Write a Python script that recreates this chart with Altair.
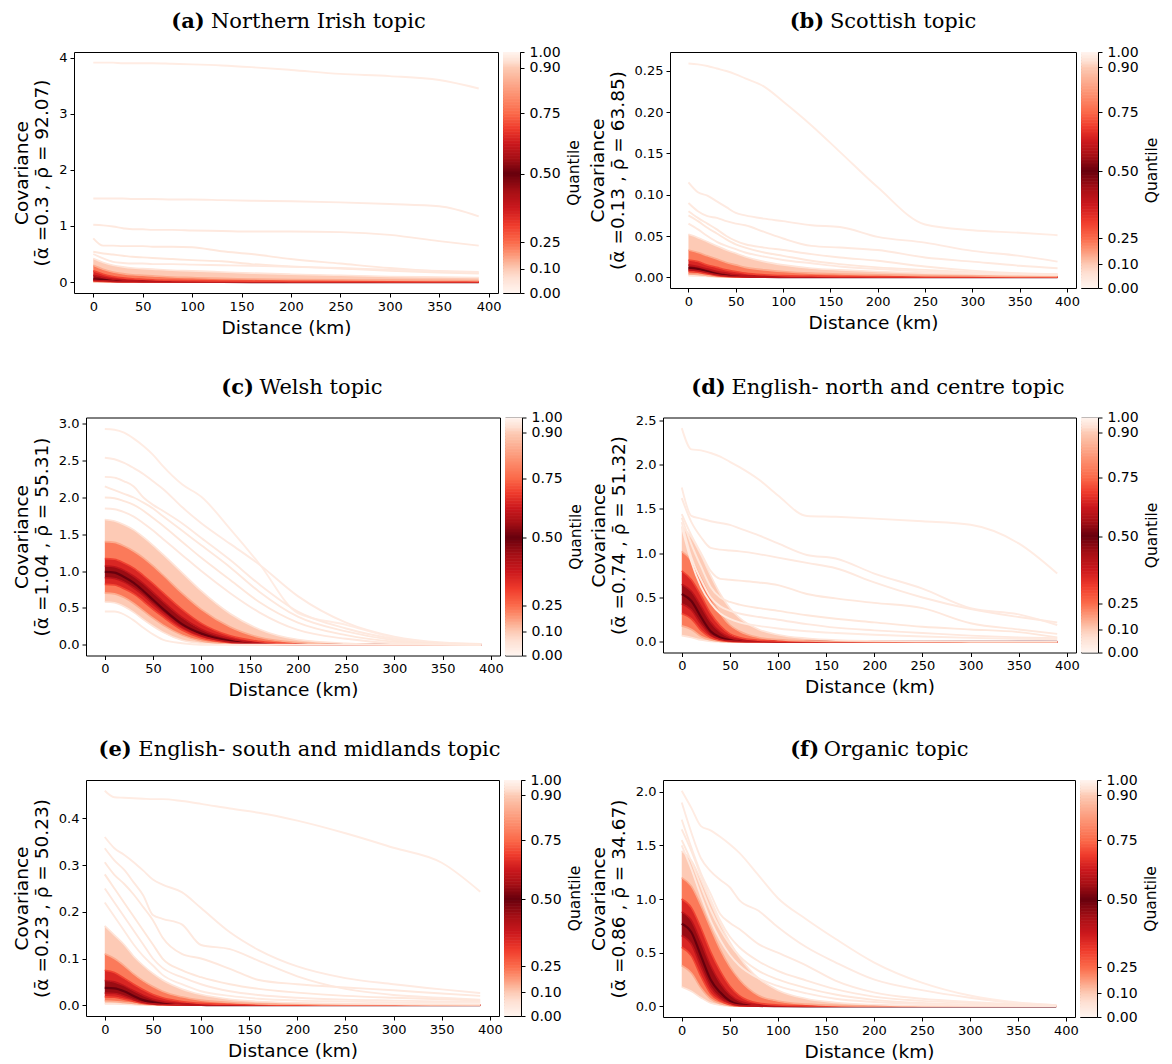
import altair as alt
import numpy as np
import pandas as pd

# ---------------- data ----------------
DIST = [0, 10, 20, 30, 40, 50, 60, 80, 100, 130, 160, 200, 250, 300, 350, 390]

A_Q = {
    0.05: [0.002, 0.001, 0, 0, 0, 0, 0, 0, 0, 0, 0, 0, 0, 0, 0, 0],
    0.15: [0.008, 0.005, 0.003, 0.001, 0, 0, 0, 0, 0, 0, 0, 0, 0, 0, 0, 0],
    0.30: [0.018, 0.012, 0.007, 0.004, 0.002, 0.001, 0, 0, 0, 0, 0, 0, 0, 0, 0, 0],
    0.40: [0.03, 0.022, 0.013, 0.008, 0.005, 0.003, 0.002, 0.001, 0, 0, 0, 0, 0, 0, 0, 0],
    0.50: [0.05, 0.04, 0.025, 0.015, 0.01, 0.007, 0.005, 0.003, 0.002, 0.001, 0, 0, 0, 0, 0, 0],
    0.60: [0.12, 0.08, 0.05, 0.035, 0.025, 0.018, 0.014, 0.01, 0.008, 0.006, 0.005, 0.004, 0.003, 0.002, 0.002, 0.002],
    0.70: [0.20, 0.14, 0.10, 0.075, 0.06, 0.05, 0.04, 0.03, 0.025, 0.02, 0.016, 0.013, 0.01, 0.008, 0.007, 0.006],
    0.85: [0.30, 0.23, 0.18, 0.15, 0.13, 0.12, 0.11, 0.09, 0.08, 0.065, 0.055, 0.045, 0.04, 0.035, 0.03, 0.025],
    0.95: [0.42, 0.35, 0.30, 0.27, 0.25, 0.24, 0.23, 0.21, 0.20, 0.18, 0.16, 0.14, 0.12, 0.10, 0.09, 0.08],
}
A_EXTRA = [
    [3.91, 3.91, 3.91, 3.90, 3.90, 3.90, 3.90, 3.89, 3.88, 3.86, 3.83, 3.78, 3.71, 3.67, 3.60, 3.45],
    [1.49, 1.49, 1.49, 1.49, 1.48, 1.48, 1.48, 1.47, 1.47, 1.46, 1.45, 1.44, 1.42, 1.39, 1.35, 1.17],
    [1.02, 1.01, 0.99, 0.96, 0.94, 0.94, 0.93, 0.93, 0.92, 0.91, 0.90, 0.90, 0.89, 0.84, 0.73, 0.65],
    [0.78, 0.65, 0.65, 0.64, 0.64, 0.64, 0.63, 0.63, 0.62, 0.55, 0.50, 0.41, 0.33, 0.25, 0.19, 0.16],
    [0.54, 0.51, 0.49, 0.47, 0.45, 0.44, 0.43, 0.41, 0.39, 0.37, 0.32, 0.28, 0.24, 0.20, 0.17, 0.15],
    [0.50, 0.42, 0.36, 0.34, 0.33, 0.33, 0.32, 0.32, 0.31, 0.30, 0.29, 0.27, 0.25, 0.22, 0.20, 0.18],
]

B_Q = {
    0.05: [0.002, 0.0015, 0.001, 0.0005, 0, 0, 0, 0, 0, 0, 0, 0, 0, 0, 0, 0],
    0.15: [0.004, 0.0035, 0.002, 0.001, 0.0005, 0, 0, 0, 0, 0, 0, 0, 0, 0, 0, 0],
    0.30: [0.007, 0.006, 0.004, 0.002, 0.001, 0.0005, 0, 0, 0, 0, 0, 0, 0, 0, 0, 0],
    0.40: [0.009, 0.008, 0.0055, 0.003, 0.0015, 0.001, 0.0005, 0, 0, 0, 0, 0, 0, 0, 0, 0],
    0.50: [0.011, 0.010, 0.007, 0.004, 0.002, 0.0012, 0.0008, 0.0004, 0.0002, 0, 0, 0, 0, 0, 0, 0],
    0.60: [0.015, 0.013, 0.010, 0.007, 0.005, 0.003, 0.002, 0.0012, 0.0008, 0.0005, 0.0003, 0.0002, 0.0001, 0, 0, 0],
    0.70: [0.021, 0.019, 0.015, 0.012, 0.009, 0.007, 0.005, 0.003, 0.002, 0.0015, 0.001, 0.0008, 0.0005, 0.0004, 0.0003, 0.0002],
    0.85: [0.033, 0.030, 0.026, 0.022, 0.018, 0.015, 0.012, 0.009, 0.007, 0.005, 0.004, 0.003, 0.002, 0.0015, 0.001, 0.001],
    0.95: [0.052, 0.048, 0.043, 0.038, 0.033, 0.029, 0.025, 0.019, 0.015, 0.011, 0.009, 0.007, 0.005, 0.004, 0.003, 0.003],
}
B_EXTRA = [
    [0.259, 0.258, 0.256, 0.253, 0.250, 0.246, 0.241, 0.231, 0.213, 0.184, 0.152, 0.109, 0.064, 0.057, 0.054, 0.051],
    [0.115, 0.103, 0.099, 0.092, 0.085, 0.078, 0.075, 0.071, 0.068, 0.063, 0.061, 0.049, 0.042, 0.032, 0.026, 0.019],
    [0.090, 0.080, 0.074, 0.072, 0.068, 0.065, 0.063, 0.055, 0.047, 0.038, 0.036, 0.033, 0.024, 0.019, 0.014, 0.011],
    [0.080, 0.072, 0.065, 0.058, 0.050, 0.044, 0.040, 0.036, 0.033, 0.028, 0.024, 0.020, 0.013, 0.008, 0.005, 0.004],
    [0.075, 0.068, 0.060, 0.053, 0.046, 0.040, 0.036, 0.030, 0.026, 0.020, 0.016, 0.012, 0.009, 0.006, 0.004, 0.003],
    [0.065, 0.058, 0.050, 0.043, 0.038, 0.034, 0.030, 0.025, 0.021, 0.017, 0.013, 0.010, 0.007, 0.005, 0.004, 0.003],
]

C_Q = {
    0.05: [0.58, 0.57, 0.52, 0.44, 0.34, 0.25, 0.17, 0.06, 0.02, 0, 0, 0, 0, 0, 0, 0],
    0.15: [0.70, 0.69, 0.64, 0.56, 0.46, 0.36, 0.27, 0.13, 0.05, 0.01, 0, 0, 0, 0, 0, 0],
    0.30: [0.82, 0.81, 0.76, 0.69, 0.59, 0.48, 0.38, 0.20, 0.09, 0.025, 0.005, 0, 0, 0, 0, 0],
    0.40: [0.91, 0.90, 0.85, 0.77, 0.67, 0.55, 0.44, 0.24, 0.12, 0.035, 0.01, 0, 0, 0, 0, 0],
    0.50: [0.99, 0.98, 0.92, 0.84, 0.73, 0.61, 0.49, 0.28, 0.15, 0.05, 0.015, 0.003, 0, 0, 0, 0],
    0.60: [1.07, 1.06, 1.01, 0.93, 0.83, 0.71, 0.59, 0.37, 0.21, 0.08, 0.025, 0.005, 0, 0, 0, 0],
    0.70: [1.17, 1.16, 1.11, 1.04, 0.94, 0.83, 0.71, 0.48, 0.29, 0.12, 0.045, 0.01, 0.002, 0, 0, 0],
    0.85: [1.40, 1.39, 1.34, 1.27, 1.18, 1.07, 0.95, 0.70, 0.48, 0.24, 0.10, 0.03, 0.005, 0.001, 0, 0],
    0.95: [1.70, 1.68, 1.63, 1.56, 1.46, 1.35, 1.23, 0.98, 0.73, 0.42, 0.21, 0.07, 0.02, 0.005, 0.002, 0.001],
}
C_EXTRA = [
    [2.93, 2.92, 2.88, 2.80, 2.70, 2.58, 2.43, 2.18, 2.01, 1.57, 1.10, 0.43, 0.27, 0.095, 0.02, 0.01],
    [2.54, 2.52, 2.47, 2.40, 2.32, 2.22, 2.12, 1.87, 1.65, 1.37, 1.09, 0.66, 0.30, 0.11, 0.03, 0.01],
    [2.28, 2.27, 2.22, 2.15, 2.00, 1.90, 1.82, 1.65, 1.45, 1.15, 0.82, 0.45, 0.22, 0.08, 0.02, 0.005],
    [2.15, 2.10, 2.05, 2.00, 1.93, 1.85, 1.75, 1.55, 1.35, 1.05, 0.72, 0.38, 0.18, 0.06, 0.015, 0.005],
    [2.00, 1.99, 1.95, 1.90, 1.82, 1.72, 1.62, 1.40, 1.18, 0.88, 0.58, 0.30, 0.13, 0.04, 0.01, 0.0],
    [1.85, 1.84, 1.80, 1.74, 1.65, 1.55, 1.44, 1.22, 1.00, 0.70, 0.44, 0.20, 0.08, 0.02, 0.005, 0],
    [0.45, 0.45, 0.41, 0.33, 0.23, 0.14, 0.07, 0.02, 0, 0, 0, 0, 0, 0, 0, 0],
]

D_Q = {
    0.05: [0.07, 0.05, 0.02, 0.005, 0.001, 0, 0, 0, 0, 0, 0, 0, 0, 0, 0, 0],
    0.15: [0.18, 0.14, 0.06, 0.02, 0.005, 0.001, 0, 0, 0, 0, 0, 0, 0, 0, 0, 0],
    0.30: [0.32, 0.26, 0.13, 0.05, 0.015, 0.005, 0.002, 0, 0, 0, 0, 0, 0, 0, 0, 0],
    0.40: [0.43, 0.36, 0.20, 0.08, 0.03, 0.01, 0.004, 0.001, 0, 0, 0, 0, 0, 0, 0, 0],
    0.50: [0.54, 0.46, 0.28, 0.12, 0.05, 0.02, 0.008, 0.002, 0, 0, 0, 0, 0, 0, 0, 0],
    0.60: [0.65, 0.57, 0.40, 0.22, 0.11, 0.05, 0.025, 0.008, 0.003, 0.001, 0, 0, 0, 0, 0, 0],
    0.70: [0.80, 0.70, 0.52, 0.32, 0.18, 0.09, 0.05, 0.018, 0.008, 0.003, 0.001, 0, 0, 0, 0, 0],
    0.85: [1.02, 0.92, 0.72, 0.50, 0.32, 0.19, 0.12, 0.05, 0.025, 0.01, 0.005, 0.002, 0.001, 0, 0, 0],
    0.95: [1.30, 1.18, 0.98, 0.75, 0.54, 0.38, 0.27, 0.14, 0.08, 0.04, 0.02, 0.01, 0.005, 0.003, 0.002, 0.001],
}
D_EXTRA = [
    [2.41, 2.17, 2.16, 2.13, 2.09, 2.03, 1.97, 1.83, 1.65, 1.42, 1.41, 1.39, 1.36, 1.32, 1.11, 0.77],
    [1.74, 1.42, 1.39, 1.36, 1.34, 1.32, 1.28, 1.20, 1.11, 0.98, 0.94, 0.77, 0.60, 0.38, 0.31, 0.19],
    [1.62, 1.35, 1.18, 1.06, 1.04, 1.03, 1.02, 0.99, 0.95, 0.89, 0.83, 0.67, 0.50, 0.37, 0.28, 0.22],
    [1.44, 1.20, 1.00, 0.80, 0.71, 0.70, 0.69, 0.67, 0.64, 0.54, 0.49, 0.44, 0.38, 0.21, 0.14, 0.09],
    [1.40, 1.10, 0.85, 0.62, 0.50, 0.45, 0.42, 0.38, 0.35, 0.30, 0.26, 0.22, 0.17, 0.14, 0.11, 0.05],
    [1.35, 0.95, 0.70, 0.50, 0.40, 0.35, 0.32, 0.28, 0.25, 0.20, 0.16, 0.13, 0.10, 0.07, 0.05, 0.04],
    [1.30, 0.90, 0.62, 0.44, 0.32, 0.26, 0.22, 0.18, 0.15, 0.12, 0.10, 0.08, 0.06, 0.045, 0.035, 0.03],
]

E_Q = {
    0.05: [0.003, 0.003, 0.002, 0.001, 0, 0, 0, 0, 0, 0, 0, 0, 0, 0, 0, 0],
    0.15: [0.009, 0.008, 0.006, 0.004, 0.002, 0.001, 0, 0, 0, 0, 0, 0, 0, 0, 0, 0],
    0.30: [0.018, 0.017, 0.013, 0.008, 0.004, 0.002, 0.001, 0, 0, 0, 0, 0, 0, 0, 0, 0],
    0.40: [0.026, 0.025, 0.020, 0.012, 0.006, 0.003, 0.0015, 0.0005, 0, 0, 0, 0, 0, 0, 0, 0],
    0.50: [0.037, 0.036, 0.030, 0.020, 0.011, 0.006, 0.003, 0.001, 0.0005, 0, 0, 0, 0, 0, 0, 0],
    0.60: [0.053, 0.050, 0.042, 0.031, 0.021, 0.013, 0.008, 0.003, 0.0015, 0.0005, 0, 0, 0, 0, 0, 0],
    0.70: [0.075, 0.070, 0.058, 0.045, 0.033, 0.023, 0.016, 0.008, 0.004, 0.002, 0.001, 0, 0, 0, 0, 0],
    0.85: [0.11, 0.10, 0.085, 0.067, 0.052, 0.040, 0.030, 0.018, 0.011, 0.006, 0.003, 0.002, 0.001, 0.001, 0, 0],
    0.95: [0.17, 0.15, 0.13, 0.105, 0.085, 0.068, 0.054, 0.035, 0.023, 0.013, 0.008, 0.005, 0.003, 0.002, 0.0015, 0.001],
}
E_EXTRA = [
    [0.459, 0.445, 0.444, 0.443, 0.442, 0.441, 0.441, 0.437, 0.431, 0.421, 0.412, 0.395, 0.368, 0.337, 0.305, 0.243],
    [0.360, 0.336, 0.322, 0.306, 0.288, 0.269, 0.258, 0.242, 0.208, 0.156, 0.118, 0.083, 0.058, 0.045, 0.034, 0.026],
    [0.336, 0.310, 0.290, 0.263, 0.235, 0.193, 0.185, 0.173, 0.129, 0.120, 0.095, 0.062, 0.035, 0.022, 0.016, 0.012],
    [0.306, 0.279, 0.260, 0.237, 0.210, 0.182, 0.145, 0.110, 0.100, 0.078, 0.054, 0.045, 0.038, 0.032, 0.025, 0.020],
    [0.28, 0.25, 0.22, 0.19, 0.16, 0.13, 0.10, 0.075, 0.06, 0.045, 0.035, 0.027, 0.02, 0.016, 0.013, 0.01],
    [0.25, 0.22, 0.19, 0.16, 0.13, 0.10, 0.08, 0.06, 0.045, 0.03, 0.022, 0.016, 0.012, 0.01, 0.008, 0.007],
    [0.22, 0.19, 0.16, 0.13, 0.105, 0.085, 0.065, 0.045, 0.03, 0.02, 0.014, 0.01, 0.008, 0.006, 0.005, 0.005],
]

F_Q = {
    0.05: [0.18, 0.14, 0.08, 0.03, 0.01, 0.002, 0, 0, 0, 0, 0, 0, 0, 0, 0, 0],
    0.15: [0.38, 0.31, 0.17, 0.07, 0.025, 0.006, 0.001, 0, 0, 0, 0, 0, 0, 0, 0, 0],
    0.30: [0.55, 0.47, 0.28, 0.12, 0.05, 0.015, 0.004, 0, 0, 0, 0, 0, 0, 0, 0, 0],
    0.40: [0.66, 0.58, 0.37, 0.18, 0.08, 0.03, 0.008, 0.001, 0, 0, 0, 0, 0, 0, 0, 0],
    0.50: [0.77, 0.69, 0.47, 0.25, 0.13, 0.05, 0.015, 0.003, 0.001, 0, 0, 0, 0, 0, 0, 0],
    0.60: [0.88, 0.80, 0.60, 0.38, 0.22, 0.11, 0.05, 0.012, 0.004, 0.001, 0, 0, 0, 0, 0, 0],
    0.70: [1.00, 0.92, 0.73, 0.51, 0.33, 0.19, 0.10, 0.03, 0.012, 0.004, 0.001, 0, 0, 0, 0, 0],
    0.85: [1.20, 1.12, 0.94, 0.73, 0.53, 0.37, 0.25, 0.10, 0.05, 0.02, 0.008, 0.003, 0.001, 0, 0, 0],
    0.95: [1.45, 1.36, 1.18, 0.97, 0.77, 0.60, 0.46, 0.26, 0.15, 0.07, 0.035, 0.015, 0.006, 0.003, 0.002, 0.001],
}
F_EXTRA = [
    [2.01, 1.85, 1.68, 1.64, 1.58, 1.51, 1.43, 1.22, 1.01, 0.81, 0.63, 0.41, 0.22, 0.10, 0.035, 0.01],
    [1.90, 1.62, 1.38, 1.26, 1.18, 1.11, 0.99, 0.89, 0.74, 0.55, 0.41, 0.25, 0.15, 0.08, 0.03, 0.01],
    [1.74, 1.48, 1.24, 1.05, 0.86, 0.78, 0.72, 0.58, 0.50, 0.38, 0.24, 0.13, 0.07, 0.04, 0.02, 0.01],
    [1.65, 1.45, 1.22, 1.00, 0.80, 0.65, 0.55, 0.42, 0.33, 0.24, 0.16, 0.09, 0.05, 0.03, 0.015, 0.01],
    [1.55, 1.35, 1.12, 0.90, 0.72, 0.58, 0.47, 0.33, 0.25, 0.17, 0.11, 0.06, 0.03, 0.015, 0.01, 0.005],
    [1.50, 1.28, 1.03, 0.80, 0.62, 0.48, 0.38, 0.26, 0.19, 0.12, 0.07, 0.04, 0.02, 0.01, 0.005, 0.003],
]

LETTERS = ["(a)", "(b)", "(c)", "(d)", "(e)", "(f)"]
TITLES = ["Northern Irish topic", "Scottish topic", "Welsh topic",
          "English- north and centre topic", "English- south and midlands topic", "Organic topic"]
ALPHAS = ["0.3", "0.13", "1.04", "0.74", "0.23", "0.86"]
RHOS = ["92.07", "63.85", "55.31", "51.32", "50.23", "34.67"]
Y_TICKS = [
    [0, 1, 2, 3, 4],
    [0, 0.05, 0.10, 0.15, 0.20, 0.25],
    [0, 0.5, 1.0, 1.5, 2.0, 2.5, 3.0],
    [0, 0.5, 1.0, 1.5, 2.0, 2.5],
    [0, 0.1, 0.2, 0.3, 0.4],
    [0, 0.5, 1.0, 1.5, 2.0],
]
Y_FMT = ["d", ".2f", ".1f", ".1f", ".1f", ".1f"]
Y_DOM = [[-0.195, 4.10], [-0.013, 0.273], [-0.147, 3.087], [-0.12, 2.53], [-0.023, 0.482], [-0.1, 2.11]]
QUANTS = [A_Q, B_Q, C_Q, D_Q, E_Q, F_Q]
EXTRAS = [A_EXTRA, B_EXTRA, C_EXTRA, D_EXTRA, E_EXTRA, F_EXTRA]

CB_TICK_POS = [0.0, 0.10, 0.21, 0.495, 0.745, 0.935, 1.0]
CB_TICK_Q = [0.0, 0.10, 0.25, 0.50, 0.75, 0.90, 1.0]
CB_LABELS = ["0.00", "0.10", "0.25", "0.50", "0.75", "0.90", "1.00"]

# ---------------- layout / style ----------------
SIZES = [(424, 241), (406, 236), (414, 238), (413, 235), (413, 236), (412, 237)]
CBW = 17
CBGAP = 5
LEFT_PAD = [2, 1, 1]       # blank width in front of each row
ROW_SP = [4, 3, 4]         # gap between the left and right panel groups
REDS = ['#fff5f0', '#fee0d2', '#fcbba1', '#fc9272', '#fb6a4a', '#ef3b2c', '#cb181d', '#a50f15', '#67000d']
CSCALE = alt.Scale(domain=[i / 16 for i in range(17)], range=REDS + REDS[-2::-1], interpolate='rgb')

SANS_W = {' ': 651, '(': 799, ')': 799, '-': 739,
          'a': 1255, 'b': 1300, 'c': 1126, 'd': 1300, 'e': 1260, 'f': 721, 'g': 1300, 'h': 1298,
          'i': 569, 'j': 569, 'k': 1186, 'l': 569, 'm': 1995, 'n': 1298, 'o': 1253, 'p': 1300,
          'q': 1300, 'r': 842, 's': 1067, 't': 803, 'u': 1298, 'v': 1212, 'w': 1675, 'x': 1212,
          'y': 1212, 'z': 1075, 'E': 1294, 'I': 604, 'N': 1532, 'O': 1612, 'S': 1300, 'W': 2025}


def text_w(s, size, factor):
    return sum(SANS_W.get(ch, 1250) for ch in s) / 2048.0 * size * factor


TFS = 21


def panel(i):
    W, H = SIZES[i]
    Q = QUANTS[i]
    keys = sorted(Q)
    band_rows = []
    for k1, k2 in zip(keys[:-1], keys[1:]):
        for d, lo, hi in zip(DIST, Q[k1], Q[k2]):
            band_rows.append({'d': d, 'lo': lo, 'hi': hi, 'q': (k1 + k2) / 2, 'band': f'{k1}-{k2}'})
    bands = pd.DataFrame(band_rows)

    erows = []
    eq = [0.972, 0.968, 0.964, 0.96, 0.957, 0.962, 0.966]
    for j, vals in enumerate(EXTRAS[i]):
        for d, v in zip(DIST, vals):
            erows.append({'d': d, 'v': v, 'q': eq[j % len(eq)], 'id': f'e{j}'})
    extra = pd.DataFrame(erows)

    xenc = alt.X('d:Q', scale=alt.Scale(domain=[-19.5, 409.5], nice=False, zero=False),
                 axis=alt.Axis(values=list(range(0, 401, 50)), format='d', title='Distance (km)',
                               labelFlush=False))
    yaxis = alt.Axis(values=Y_TICKS[i], format=Y_FMT[i], labelFlush=False, titlePadding=7,
                     title=['Covariance', f'(\u03b1\u0304 ={ALPHAS[i]} , \u03c1\u0304 = {RHOS[i]})'])
    yscale = alt.Scale(domain=Y_DOM[i], nice=False, zero=False)
    col = alt.Color('q:Q', scale=CSCALE, legend=None)

    layers = [alt.Chart(bands).mark_area(interpolate='monotone', opacity=1).encode(
        x=xenc, y=alt.Y('lo:Q', scale=yscale, axis=yaxis, stack=None), y2='hi:Q',
        color=col, detail='band:N')]
    # median first, then the other quantile curves in ascending order, then the extreme curves
    order = [0.5] + [k for k in keys if k != 0.5]
    for k in order:
        dfq = pd.DataFrame({'d': DIST, 'v': Q[k], 'q': k})
        layers.append(alt.Chart(dfq).mark_line(
            interpolate='monotone', strokeWidth=2.2 if k == 0.5 else 1.6).encode(
            x=xenc, y=alt.Y('v:Q', scale=yscale, axis=yaxis), color=col))
    layers.append(alt.Chart(extra).mark_line(interpolate='monotone', strokeWidth=1.9).encode(
        x=xenc, y=alt.Y('v:Q', scale=yscale, axis=yaxis), color=col, detail='id:N'))

    # title: bold letter + regular text, centred over plot + colourbar
    wb = text_w(LETTERS[i], TFS, 1.13)
    wsp = text_w(' ', TFS, 1.0)
    wr = text_w(TITLES[i], TFS, 1.04)
    cx = (W + CBGAP + CBW) / 2.0
    x0 = cx - (wb + wsp + wr) / 2.0
    layers.append(alt.Chart(pd.DataFrame({'t': [LETTERS[i]]})).mark_text(
        font='DejaVu Serif', fontSize=TFS, fontWeight='bold', align='left', baseline='alphabetic',
        color='black').encode(x=alt.value(x0), y=alt.value(-24), text='t:N'))
    layers.append(alt.Chart(pd.DataFrame({'t': [TITLES[i]]})).mark_text(
        font='DejaVu Serif', fontSize=TFS, fontWeight='normal', align='left', baseline='alphabetic',
        color='black').encode(x=alt.value(x0 + wb + wsp), y=alt.value(-24), text='t:N'))

    p = alt.layer(*layers).properties(width=W, height=H)

    # colourbar
    N = 160
    p0 = np.arange(N) / N
    p1 = (np.arange(N) + 1.4) / N
    pm = (np.arange(N) + 0.5) / N
    cb = pd.DataFrame({'p0': p0, 'p1': np.minimum(p1, 1.0),
                       'q': np.interp(pm, CB_TICK_POS, CB_TICK_Q)})
    expr = ''
    for k in range(len(CB_TICK_POS) - 1):
        thr = (CB_TICK_POS[k] + CB_TICK_POS[k + 1]) / 2
        expr += f"datum.value < {thr:.4f} ? '{CB_LABELS[k]}' : "
    expr += f"'{CB_LABELS[-1]}'"
    cbar = alt.Chart(cb).mark_rect(strokeWidth=0).encode(
        y=alt.Y('p0:Q', scale=alt.Scale(domain=[0, 1], nice=False, zero=False),
                axis=alt.Axis(orient='right', values=CB_TICK_POS, labelExpr=expr, title='Quantile',
                              labelFontSize=14, labelPadding=5,
                              titleFontSize=15.5, titleAngle=270, titleBaseline='top',
                              titlePadding=6, labelFlush=False)),
        y2='p1:Q', x=alt.value(0), x2=alt.value(CBW),
        color=alt.Color('q:Q', scale=CSCALE, legend=None)
    ).properties(width=CBW, height=H)
    return alt.hconcat(p, cbar, spacing=CBGAP, bounds='flush')


def spacer(w):
    return alt.Chart(pd.DataFrame({'z': [0]})).mark_point(size=1, opacity=0).encode(
        x=alt.value(w / 2.0), y=alt.value(0.5)
    ).properties(width=w, height=1, view=alt.ViewBackground(stroke='transparent'))


rows = []
for r in range(3):
    inner = alt.hconcat(panel(2 * r), panel(2 * r + 1), spacing=ROW_SP[r])
    rows.append(alt.hconcat(spacer(LEFT_PAD[r]), inner, spacing=0))

chart = alt.concat(*rows, columns=1, spacing=38.5).properties(
    padding={'left': 0, 'top': 2, 'right': 2, 'bottom': 2}
).configure(font='DejaVu Sans').configure_view(
    stroke='black', strokeWidth=1
).configure_axis(
    grid=False, domain=False, labelFont='DejaVu Sans', labelFontSize=13, labelColor='black',
    titleFont='DejaVu Sans', titleFontSize=18.5, titleFontWeight='normal', titleColor='black',
    tickColor='black', tickSize=4, tickWidth=1, labelPadding=3, titlePadding=5,
    titleLineHeight=20
)

chart.save("out.html", embed_options={"renderer": "svg", "actions": False})
